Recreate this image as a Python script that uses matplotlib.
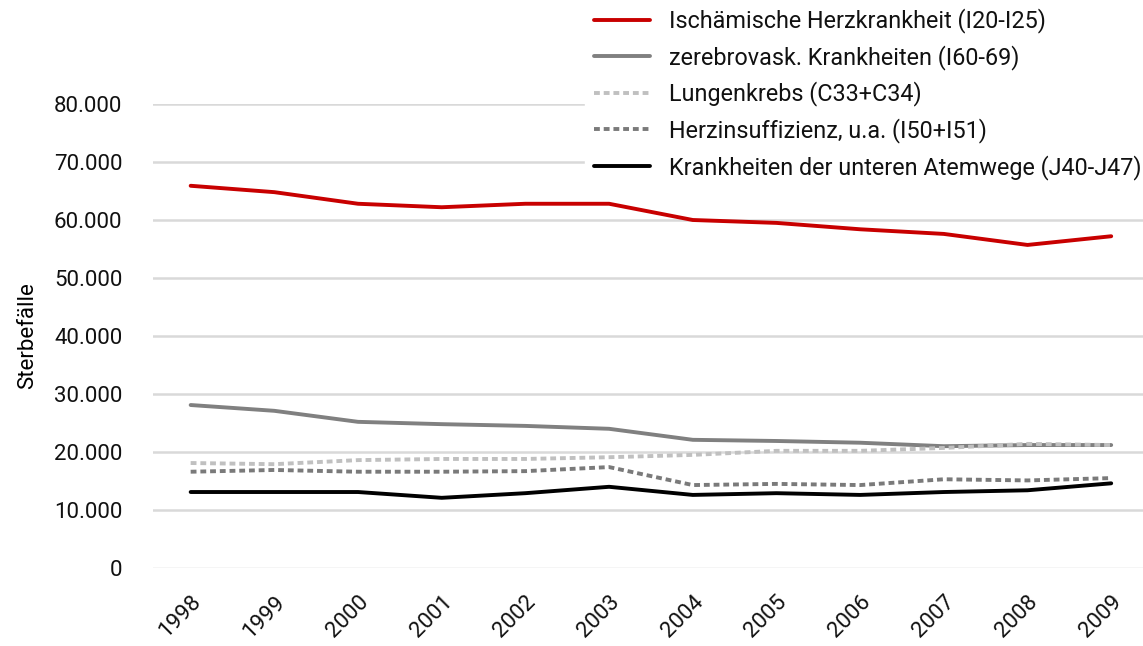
import matplotlib.pyplot as plt
from matplotlib.ticker import FuncFormatter

years = ["1998", "1999", "2000", "2001", "2002", "2003",
         "2004", "2005", "2006", "2007", "2008", "2009"]

ischaemisch = [65900, 64800, 62800, 62200, 62800, 62800, 60000, 59500, 58400, 57600, 55700, 57200]
zerebro = [28100, 27100, 25200, 24800, 24500, 24000, 22100, 21900, 21600, 21000, 21200, 21200]
lungenkrebs = [18100, 17900, 18600, 18800, 18800, 19100, 19500, 20200, 20200, 20700, 21400, 21200]
herzinsuff = [16600, 16900, 16600, 16600, 16700, 17400, 14300, 14500, 14300, 15300, 15100, 15500]
atemwege = [13100, 13100, 13100, 12100, 12900, 14000, 12600, 12900, 12600, 13100, 13400, 14600]

labels = ["Ischämische Herzkrankheit (I20-I25)",
          "zerebrovask. Krankheiten (I60-69)",
          "Lungenkrebs (C33+C34)",
          "Herzinsuffizienz, u.a. (I50+I51)",
          "Krankheiten der unteren Atemwege (J40-J47)"]

plt.rcParams['font.family'] = ['Roboto', 'DejaVu Sans']
plt.rcParams['text.color'] = '#111111'

W, H = 1143, 646
fig = plt.figure(figsize=(W / 100, H / 100), dpi=100)
ax = fig.add_axes([153 / W, (H - 568) / H, 1 - 153 / W, (568 - 104) / H])

x = list(range(len(years)))
ax.plot(x, ischaemisch, color="#C80000", lw=2.8, label=labels[0], solid_capstyle="round")
ax.plot(x, zerebro, color="#808080", lw=2.8, label=labels[1], solid_capstyle="round")
ax.plot(x, lungenkrebs, color="#C0C0C0", lw=2.8, dashes=(1.5, 1), label=labels[2])
ax.plot(x, herzinsuff, color="#7A7A7A", lw=2.8, dashes=(1.5, 1), label=labels[3])
ax.plot(x, atemwege, color="#000000", lw=2.8, label=labels[4], solid_capstyle="round")

ax.set_ylim(0, 80000)
ax.set_yticks(range(0, 80001, 10000))
ax.yaxis.set_major_formatter(FuncFormatter(lambda v, p: f"{int(v):,}".replace(",", ".")))
ax.set_xlim(-0.45, 11.38)
ax.set_xticks(x)
ax.set_xticklabels(years, rotation=45, ha="right", rotation_mode="anchor")

ax.tick_params(axis="both", length=0, labelsize=16, labelcolor="#111111")
ax.tick_params(axis="y", pad=22)
ax.tick_params(axis="x", pad=17)
ax.grid(axis="y", color="#D9D9D9", lw=1.8)
ax.set_axisbelow(True)
for s in ax.spines.values():
    s.set_visible(False)
ax.get_ygridlines()[0].set_color("#F2F2F2")

ax.set_ylabel("Sterbefälle", fontsize=16)
ax.yaxis.set_label_coords((38 - 153) / (W - 153), 0.5)

leg = ax.legend(loc="upper right", bbox_to_anchor=(1.0 + 8 / W, 1.0 + 1 / H),
                bbox_transform=fig.transFigure,
                fontsize=16.8, frameon=True, fancybox=False, edgecolor="white",
                framealpha=1, handlelength=2.4, handletextpad=0.8, labelspacing=0.5,
                borderpad=0.4, borderaxespad=0.0)

fig.savefig("out.png", dpi=100)
